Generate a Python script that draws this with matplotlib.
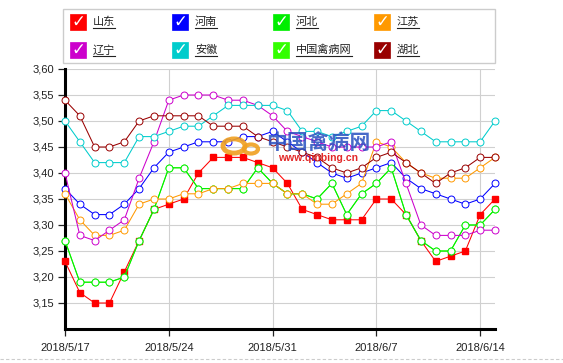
import numpy as np
import pandas as pd
import matplotlib
matplotlib.use('Agg')
import matplotlib.pyplot as plt
from matplotlib.patches import Rectangle, Circle
from matplotlib.lines import Line2D

plt.rcParams['font.family'] = ['Liberation Sans', 'Noto Sans CJK SC', 'DejaVu Sans']

# daily egg prices, 2018/5/17 - 2018/6/15
dates = pd.date_range('2018-05-17', '2018-06-15', freq='D')

shandong = [3.23, 3.17, 3.15, 3.15, 3.21, 3.27, 3.33, 3.34, 3.35, 3.40, 3.43, 3.43, 3.43, 3.42, 3.41,
            3.38, 3.33, 3.32, 3.31, 3.31, 3.31, 3.35, 3.35, 3.32, 3.27, 3.23, 3.24, 3.25, 3.32, 3.35]
henan = [3.37, 3.34, 3.32, 3.32, 3.34, 3.37, 3.41, 3.44, 3.45, 3.46, 3.46, 3.46, 3.47, 3.47, 3.48,
         3.46, 3.44, 3.42, 3.40, 3.39, 3.40, 3.41, 3.42, 3.39, 3.37, 3.36, 3.35, 3.34, 3.35, 3.38]
hebei = [3.27, 3.19, 3.19, 3.19, 3.20, 3.27, 3.33, 3.41, 3.41, 3.37, 3.37, 3.37, 3.37, 3.41, 3.38,
         3.36, 3.36, 3.35, 3.38, 3.32, 3.36, 3.38, 3.41, 3.32, 3.27, 3.25, 3.25, 3.30, 3.30, 3.33]
jiangsu = [3.36, 3.31, 3.28, 3.28, 3.29, 3.34, 3.35, 3.35, 3.36, 3.36, 3.37, 3.37, 3.38, 3.38, 3.38,
           3.36, 3.36, 3.34, 3.34, 3.36, 3.38, 3.46, 3.45, 3.42, 3.40, 3.39, 3.39, 3.39, 3.41, 3.43]
liaoning = [3.40, 3.28, 3.27, 3.29, 3.31, 3.39, 3.46, 3.54, 3.55, 3.55, 3.55, 3.54, 3.54, 3.53, 3.51,
            3.48, 3.47, 3.46, 3.45, 3.45, 3.45, 3.45, 3.46, 3.38, 3.30, 3.28, 3.28, 3.28, 3.29, 3.29]
anhui = [3.50, 3.46, 3.42, 3.42, 3.42, 3.47, 3.47, 3.48, 3.49, 3.49, 3.51, 3.53, 3.53, 3.53, 3.53,
         3.52, 3.48, 3.48, 3.47, 3.48, 3.49, 3.52, 3.52, 3.50, 3.48, 3.46, 3.46, 3.46, 3.46, 3.50]
# hidden under the 河北 line in the picture
qinbing = [3.27, 3.19, 3.19, 3.19, 3.20, 3.27, 3.33, 3.41, 3.41, 3.37, 3.37, 3.37, 3.37, 3.41, 3.38,
           3.36, 3.36, 3.35, 3.38, 3.32, 3.36, 3.38, 3.41, 3.32, 3.27, 3.25, 3.25, 3.30, 3.30, 3.33]
hubei = [3.54, 3.51, 3.45, 3.45, 3.46, 3.50, 3.51, 3.51, 3.51, 3.51, 3.49, 3.49, 3.49, 3.47, 3.46,
         3.45, 3.44, 3.43, 3.41, 3.40, 3.41, 3.43, 3.44, 3.42, 3.40, 3.38, 3.40, 3.41, 3.43, 3.43]

names = ['山东', '河南', '河北', '江苏', '辽宁', '安徽', '中国禽病网', '湖北']
series = [shandong, henan, hebei, jiangsu, liaoning, anhui, qinbing, hubei]
colors = ['#ff0000', '#0000ff', '#00ee00', '#ff9900', '#cc00cc', '#00cccc', '#33ff00', '#990000']
# drawing order: the national line goes under 河北
draw_order = [0, 6, 1, 2, 3, 4, 5, 7]

y_ticks = [3.15, 3.20, 3.25, 3.30, 3.35, 3.40, 3.45, 3.50, 3.55, 3.60]
x_tick_dates = ['2018-05-17', '2018-05-24', '2018-05-31', '2018-06-07', '2018-06-14']
x_tick_labels = ['2018/5/17', '2018/5/24', '2018/5/31', '2018/6/7', '2018/6/14']

W, H = 563, 363
fig = plt.figure(figsize=(W / 100, H / 100), dpi=100)


def fx(x):
    return x / W


def fy(y):
    return 1 - y / H


ax = fig.add_axes([fx(65), fy(329), 430 / W, 260 / H])

for i in draw_order:
    name, vals, c = names[i], series[i], colors[i]
    if name == '山东':
        ax.plot(dates, vals, color=c, lw=0.75, marker='s', ms=5, mfc=c, mec=c,
                clip_on=False, zorder=3)
    else:
        ax.plot(dates, vals, color=c, lw=0.75, marker='o', ms=5, mfc='white', mec=c,
                mew=0.7, clip_on=False, zorder=3)

ax.set_xlim(dates[0], dates[-1])
ax.set_ylim(3.10, 3.60)
ax.set_yticks(y_ticks)
ax.set_yticklabels([f'{v:.2f}'.replace('.', ',') for v in y_ticks])
ax.set_xticks(pd.to_datetime(x_tick_dates))
ax.set_xticklabels(x_tick_labels)
ax.tick_params(axis='y', length=5, width=0.9, pad=3, labelsize=8, colors='#222222')
ax.tick_params(axis='x', length=5, width=0.9, pad=5, labelsize=8, colors='#222222')
ax.grid(True, color='#d0d0d0', lw=0.8)
ax.set_axisbelow(True)
for s in ['top', 'right']:
    ax.spines[s].set_visible(False)
for s in ['left', 'bottom']:
    ax.spines[s].set_linewidth(2.2)
    ax.spines[s].set_color('black')

# watermark
fig.text(fx(318), fy(142), '中国禽病网', family=['Noto Sans CJK SC'], fontsize=15,
         color='#2850c0', ha='center', va='center', fontweight='bold', alpha=0.85)
fig.text(fx(318), fy(158), 'www.qinbing.cn', fontsize=7.5, color='#e01010',
         ha='center', va='center', fontweight='bold', alpha=0.9)
fig.add_artist(Circle((fx(234), fy(146)), 11 / W, transform=fig.transFigure,
                      fill=False, ec='#f0a020', lw=3.5, alpha=0.9))
fig.add_artist(Circle((fx(251), fy(149)), 7 / W, transform=fig.transFigure,
                      fill=False, ec='#f0a020', lw=3, alpha=0.9))

# legend box
fig.add_artist(Rectangle((fx(63), fy(63)), 432 / W, 54 / H, transform=fig.transFigure,
                         fill=False, ec='#cccccc', lw=1))
col_x = [70, 172, 273, 374]
row_y = [14, 42]
label_texts = []
for i, (name, c) in enumerate(zip(names, colors)):
    cx = col_x[i % 4]
    ry = row_y[i // 4]
    fig.add_artist(Rectangle((fx(cx), fy(ry + 16)), 16 / W, 16 / H,
                             transform=fig.transFigure, fc=c, ec=c, lw=0.5))
    fig.text(fx(cx + 8), fy(ry + 8), '✓', family=['DejaVu Sans'], fontsize=12,
             color='white', ha='center', va='center')
    t = fig.text(fx(cx + 23), fy(ry + 8), name, family=['Noto Sans CJK SC', 'DejaVu Sans'],
                 fontsize=8, color='#222222', ha='left', va='center')
    label_texts.append(t)

fig.canvas.draw()
renderer = fig.canvas.get_renderer()
for t in label_texts:
    bb = t.get_window_extent(renderer)
    yl = bb.y0 - 1
    fig.add_artist(Line2D([bb.x0 / W, bb.x1 / W], [yl / H, yl / H],
                          transform=fig.transFigure, color='#222222', lw=0.8))

# dashed border at the bottom
fig.add_artist(Line2D([0, 1], [fy(359), fy(359)], transform=fig.transFigure,
                      color='#cccccc', lw=0.8, ls=(0, (3, 2))))

fig.savefig('out.png', dpi=100)
